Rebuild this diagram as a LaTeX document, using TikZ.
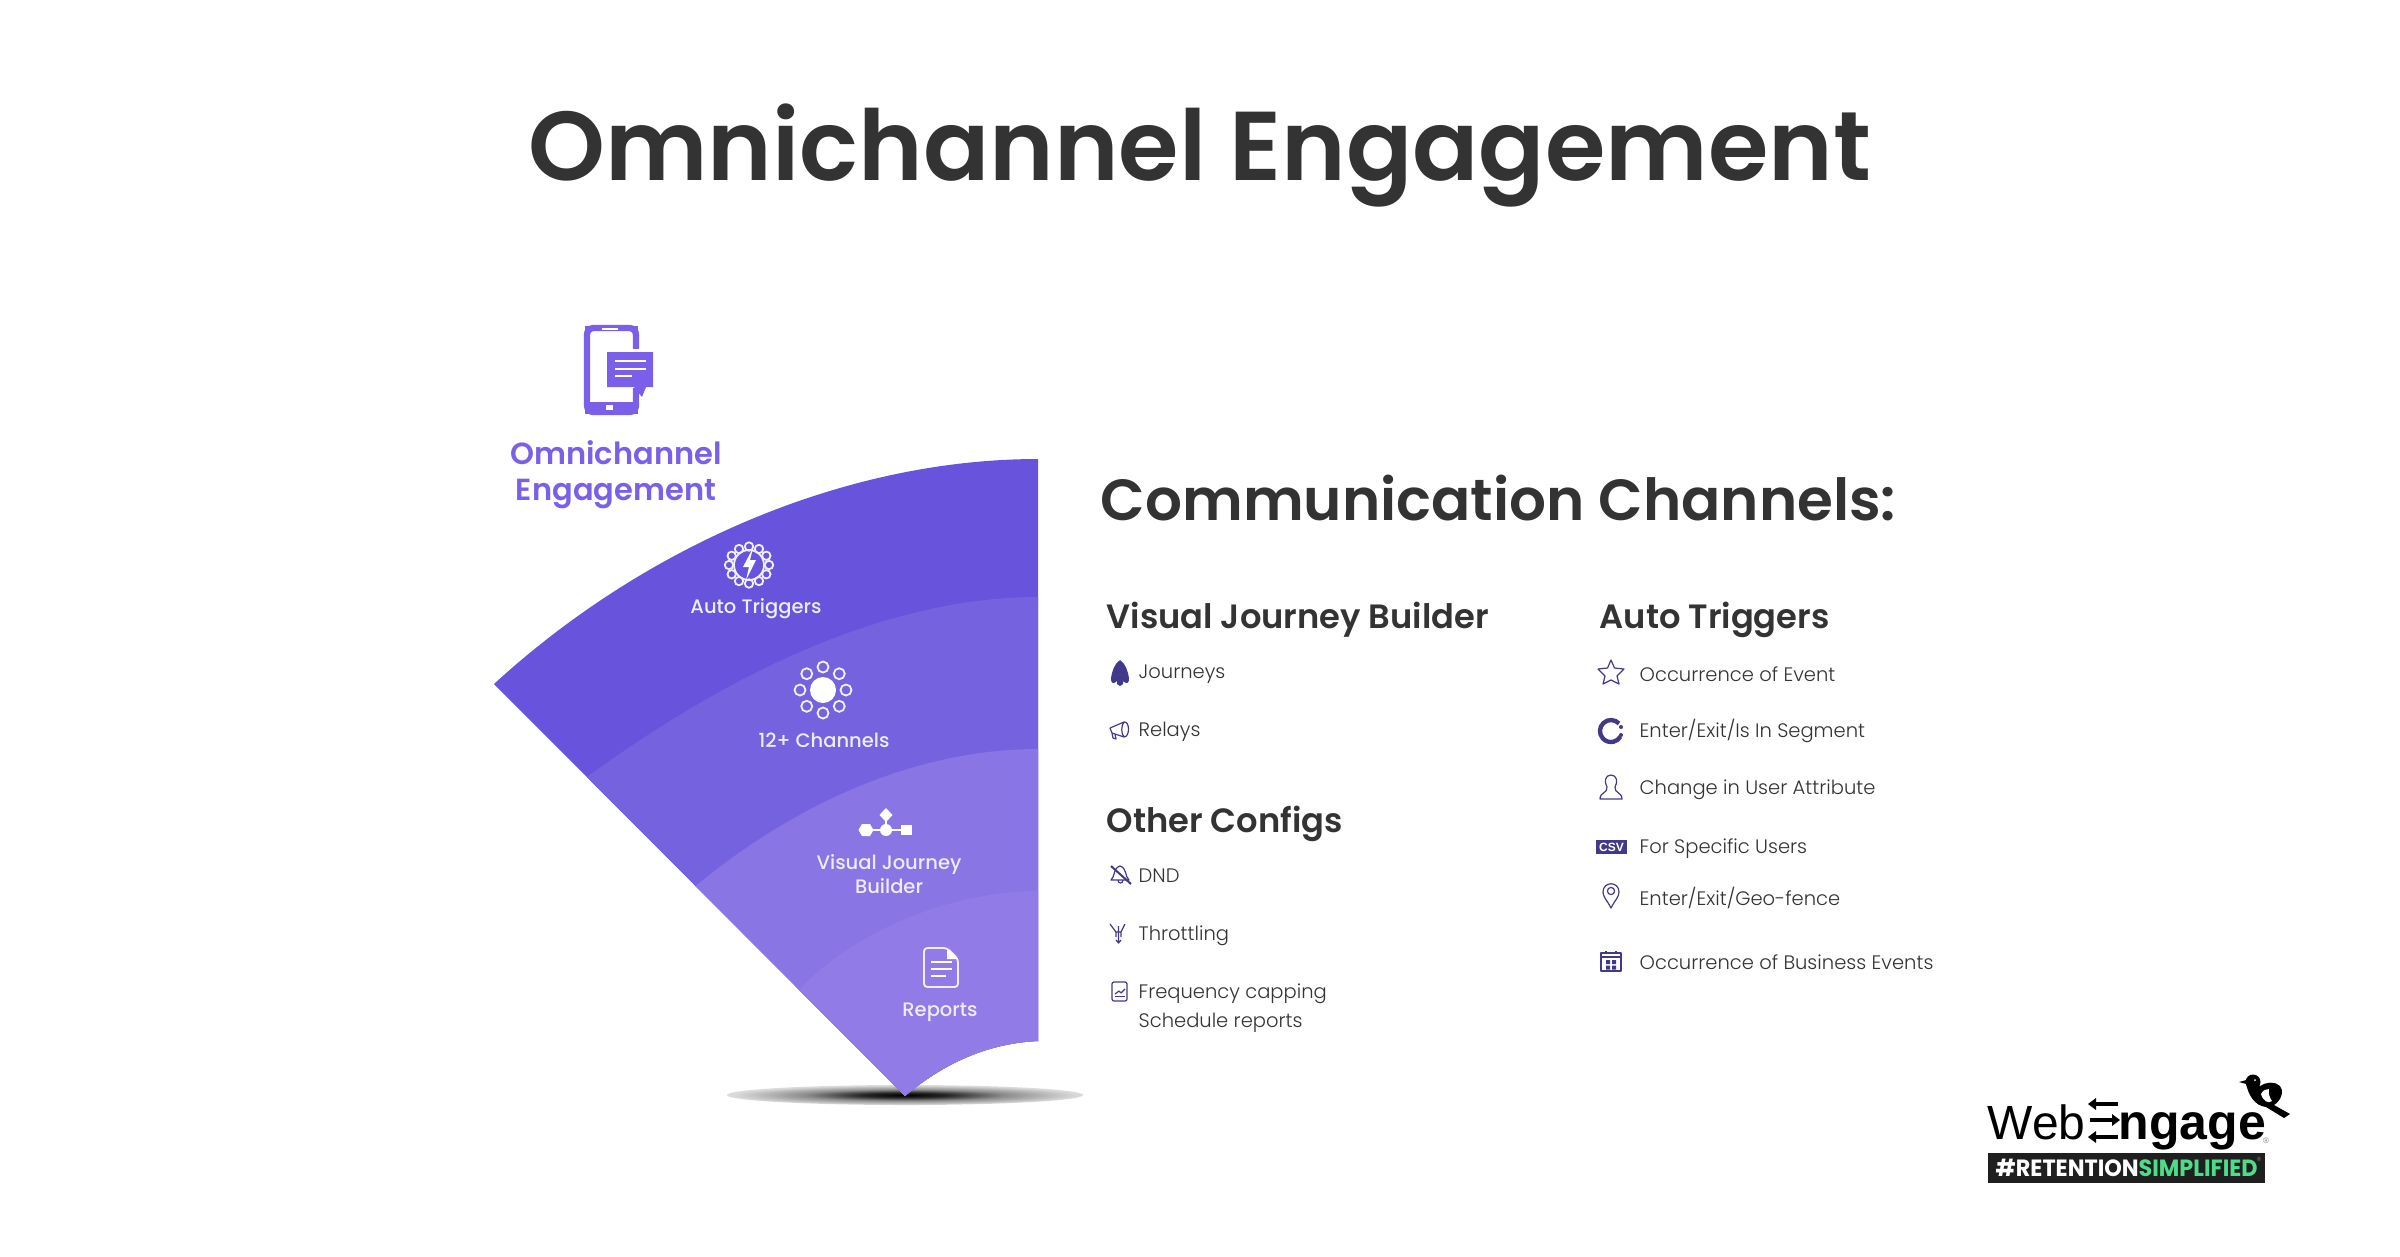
\documentclass[tikz,border=0pt]{standalone}
\usepackage{fontspec}
\usepackage{graphicx}
\setmainfont{Poppins}
\newfontfamily\popsb{Poppins SemiBold}
\newfontfamily\popmd{Poppins Medium}
\newfontfamily\poplt{Poppins Light}
\newfontfamily\logofont{Liberation Sans}
\newcommand{\pxs}[1]{\fontsize{\dimexpr#1pt*3/10\relax}{\dimexpr#1pt*36/100\relax}\selectfont}
\definecolor{ink}{HTML}{333333}
\definecolor{band1}{HTML}{6753DC}
\definecolor{band2}{HTML}{7562DE}
\definecolor{band3}{HTML}{8A75E4}
\definecolor{band4}{HTML}{917BE6}
\definecolor{brandv}{HTML}{7A60E8}
\definecolor{iconv}{HTML}{43398A}
\definecolor{greenl}{HTML}{4FDC8A}
\pgfdeclareradialshading{shadowfade}{\pgfpointorigin}{color(0bp)=(black); color(6bp)=(black!85); color(14bp)=(black!45); color(24bp)=(black!15); color(36bp)=(black!4); color(50bp)=(white); color(100bp)=(white)}
\tikzset{
 titletext/.style={anchor=base west,inner sep=0pt,text=ink,font=\popsb\pxs{97.8}},
 subtitle/.style={anchor=base west,inner sep=0pt,text=ink,font=\popsb\pxs{58}},
 heading/.style={anchor=base west,inner sep=0pt,text=ink,font=\popsb\pxs{33.7}},
 item/.style={anchor=base west,inner sep=0pt,text=ink,font=\poplt\pxs{19.5}},
 fanlabel/.style={anchor=center,inner sep=0pt,text=white!88!band2,font=\popmd\pxs{19.5}},
 brandlabel/.style={anchor=center,inner sep=0pt,text=brandv,font=\popsb\pxs{30.5}},
 iconline/.style={draw=iconv,line width=.36pt,line join=round},
 iconfill/.style={fill=iconv,draw=none},
 fanline/.style={draw=white!90!band2,line width=.55pt},
}
\begin{document}
\begin{tikzpicture}[x=.3pt,y=-.3pt]
\useasboundingbox (0,0) rectangle (2400,1256);
\fill[white] (0,0) rectangle (2400,1256);
% title block
\node[titletext] (title) at (528,180) {Omnichannel Engagement};
\node[subtitle] (sub) at (1100,520.5) {Communication Channels:};
% shadow
\shade[shading=shadowfade] (905,1095) ellipse (178 and 10);
% fan
\fill[band1] (494,684) .. controls (640,550) and (840,459) .. (1038,459) -- (1038,1041)
  .. controls (990,1043) and (945,1062) .. (905,1096) -- cycle;
\fill[band2] (587,777) .. controls (720,680) and (880,597) .. (1038,597) -- (1038,1041)
  .. controls (990,1043) and (945,1062) .. (905,1096) -- cycle;
\fill[band3] (695.5,886) .. controls (800,800) and (920,749) .. (1038,749) -- (1038,1041)
  .. controls (990,1043) and (945,1062) .. (905,1096) -- cycle;
\fill[band4] (799,990) .. controls (860,925) and (960,891) .. (1038,891) -- (1038,1041)
  .. controls (990,1043) and (945,1062) .. (905,1096) -- cycle;
% fan labels
\node[fanlabel] (l1) at (756,609) {Auto Triggers};
\node[fanlabel] (l2) at (824,740) {12+ Channels};
\node[fanlabel] (l3) at (889,864) {Visual Journey};
\node[fanlabel] (l3b) at (889,886) {Builder};
\node[fanlabel] (l4) at (940,1012) {Reports};
\node[brandlabel] (b1) at (616,453) {Omnichannel};
\node[brandlabel] (b2) at (616,494) {Engagement};
% phone icon
\draw[brandv,line width=1.9pt,rounded corners=2pt] (587,328) rectangle (636,412);
\fill[brandv] (585,326) rectangle (638,331);
\fill[brandv] (585,402) rectangle (638,414);
\fill[white] (606,405) rectangle (613,410);
\fill[white] (602,327.5) rectangle (618,329.5);
\fill[white] (604,349) rectangle (656,388);
\fill[brandv] (607,352) -- (653,352) -- (653,387) -- (646,387) -- (642,397) -- (634,387) -- (607,387) -- cycle;
\foreach \ya/\xb in {361/646,369/646,376/632}{\draw[white,line width=.7pt] (615,\ya) -- (\xb,\ya);}
% auto triggers gear icon
\draw[fanline] (749,565) circle (15);
\foreach \a in {0,30,...,330}{\draw[fanline] ({749+20*cos(\a)},{565+18.5*sin(\a)}) circle (4.2);}
\fill[white] (753,548) -- (743,567) -- (749,567) -- (746,580) -- (756,560) -- (750,560) -- cycle;
% 12+ channels icon
\fill[white] (823,690) circle (13);
\foreach \a in {0,45,...,315}{\draw[fanline] ({823+23*cos(\a)},{690+23*sin(\a)}) circle (5.5);}
% flow icon
\draw[white,line width=.8pt] (862,830) -- (905,830) (886,817) -- (886,830);
\fill[white] (886,808) -- (892.5,815) -- (886,822) -- (879.5,815) -- cycle;
\fill[white] (862,824) -- (870,824) -- (873.5,830) -- (870,836) -- (862,836) -- (858.5,830) -- cycle;
\fill[white] (886,830) circle (6);
\fill[white] (901,825) rectangle (912,835);
% doc icon
\draw[fanline,line join=round,rounded corners=1pt] (924,948) -- (947,948) -- (958,959) -- (958,987) -- (924,987) -- cycle;
\foreach \ya/\xb in {962/952,969/952,976/946}{\draw[white,line width=.55pt] (931,\ya) -- (\xb,\ya);}
\fill[white] (947,948) -- (958,959) -- (947,959) -- cycle;
% left column
\node[heading] (h1) at (1106,628) {Visual Journey Builder};
\node[item] (i1) at (1138,678) {Journeys};
\node[item] (i2) at (1138,736) {Relays};
\node[heading] (h2) at (1106,832) {Other Configs};
\node[item] (i3) at (1138,882) {DND};
\node[item] (i4) at (1138,940) {Throttling};
\node[item] (i5) at (1138,998) {Frequency capping};
\node[item] (i6) at (1138,1027) {Schedule reports};
% right column
\node[heading] (h3) at (1599,628) {Auto Triggers};
\node[item] (j1) at (1639,681) {Occurrence of Event};
\node[item] (j2) at (1639,737) {Enter/Exit/Is In Segment};
\node[item] (j3) at (1639,794) {Change in User Attribute};
\node[item] (j4) at (1639,853) {For Specific Users};
\node[item] (j5) at (1639,905) {Enter/Exit/Geo-fence};
\node[item] (j6) at (1639,969) {Occurrence of Business Events};
% rocket
\fill[iconv] (1120,660) .. controls (1114,664) and (1112,672) .. (1111,678) .. controls (1111,682) and (1112,684) .. (1115,682.5)
  -- (1117,681) -- (1117,684) -- (1120,686) -- (1123,684) -- (1123,681) -- (1125,682.5) .. controls (1128,684) and (1129,682) .. (1129,678)
  .. controls (1128,672) and (1126,664) .. (1120,660) -- cycle;
% megaphone
\draw[iconline] (1110,728) -- (1124,722) .. controls (1130,721) and (1130,737) .. (1124,737) -- (1112,733) -- (1110,728) (1124,722) .. controls (1121,725) and (1121,734) .. (1124,737)
 (1112,733) -- (1113,738) -- (1116,739) -- (1115,734);
% DND bell
\draw[iconline] (1111,880) .. controls (1115,877) and (1113,868) .. (1120,866) .. controls (1127,868) and (1125,877) .. (1129,880) -- cycle (1118,880) .. controls (1118,884) and (1123,884) .. (1123,880);
\draw[iconv,line width=.6pt] (1111,866) -- (1131,884);
% throttle
\draw[iconline] (1110,924) -- (1116,932) -- (1116,937) (1125,924) -- (1121,932) -- (1121,937) (1116,932) -- (1121,932) (1118.5,926) -- (1118.5,942) (1116,940) -- (1118.5,943) -- (1121,940);
% report
\draw[iconline,rounded corners=.6pt] (1112,982) rectangle (1127,1001);
\draw[iconline] (1115,994) -- (1119,991) -- (1121,993) -- (1125,989);
\draw[iconline] (1115,996.5) -- (1125,996.5);
% star
\draw[iconline] (1611,660) -- (1614.5,668) -- (1624,669) -- (1617,676) -- (1619,684) -- (1611,680) -- (1603,684) -- (1605,676) -- (1598,669) -- (1607.5,668) -- cycle;
% ring
\draw[iconv,line width=1.3pt] (1619,723.5) arc (-43:-330:11);
\fill[iconv] (1621,727) circle (2) (1621,735) circle (2);
% user
\draw[iconline] (1600,799) -- (1622,799) .. controls (1622,792) and (1614,793) .. (1615,787) .. controls (1618,782) and (1617,775) .. (1611,775) .. controls (1605,775) and (1604,782) .. (1607,787) .. controls (1608,793) and (1600,792) .. (1600,799) -- cycle;
% csv
\fill[iconv] (1596,840) rectangle (1627,854);
\node[anchor=center,inner sep=0pt,text=white,font=\logofont\bfseries\pxs{12}] (csv) at (1611.5,847) {CSV};
% pin
\draw[iconline] (1611,908) .. controls (1607,900) and (1603,897) .. (1603,892) .. controls (1603,881) and (1619,881) .. (1619,892) .. controls (1619,897) and (1615,900) .. (1611,908) -- cycle;
\draw[iconline] (1611,891) circle (3.6);
% calendar
\draw[iconline] (1601,953) rectangle (1621,971);
\draw[iconline] (1601,957) -- (1621,957) (1606,951) -- (1606,954) (1616,951) -- (1616,954);
\fill[iconv] (1606,960) rectangle (1610,964) (1612,960) rectangle (1616,964) (1606,965.5) rectangle (1610,969.5) (1612,965.5) rectangle (1616,969.5);
% logo
\node[anchor=base west,inner sep=0pt,font=\logofont\pxs{48},text=black] (lweb) at (1987,1139) {Web};
\node[anchor=base west,inner sep=0pt,font=\logofont\bfseries\pxs{50},text=black] (lng) at (2118,1139) {ngage};
\foreach \ya/\xa/\xb/\sgn in {1104/2118/2094/-1,1120/2090/2114/1,1137/2118/2094/-1}{
  \fill[black] (\xa,\ya-1.8) -- (\xb,\ya-1.8) -- (\xb,\ya+1.8) -- (\xa,\ya+1.8) -- cycle;
  \fill[black] (\xb+\sgn*6,\ya) -- (\xb-\sgn*2,\ya-6) -- (\xb-\sgn*2,\ya+6) -- cycle;
}
\fill[black] (2253,1082) circle (7.5);
\fill[black] (2239,1082) -- (2250,1079) -- (2250,1085) -- cycle;
\fill[black] (2246,1083) .. controls (2248,1095) and (2255,1106) .. (2266,1107) -- (2284,1118) -- (2290,1114) -- (2274,1105)
  .. controls (2282,1100) and (2284,1090) .. (2280,1086) .. controls (2275,1081) and (2266,1082) .. (2260,1086) -- cycle;
\fill[white] (2261,1094) .. controls (2263,1090) and (2266,1089) .. (2269,1089) .. controls (2268,1094) and (2270,1098) .. (2272,1101) .. controls (2268,1104) and (2263,1101) .. (2261,1094) -- cycle;
\fill[white] (2255,1080) circle (1);
\node[anchor=center,inner sep=0pt,font=\logofont\pxs{8},text=gray] (reg) at (2266,1141) {®};
\fill[black!88] (1988,1153) rectangle (2265,1183);
\node[anchor=base west,inner sep=0pt,font=\bfseries\pxs{23.5},text=white] (tag1) at (1995,1176) {\resizebox{42.9pt}{\height}{\#RETENTION}};
\node[anchor=base west,inner sep=0pt,font=\bfseries\pxs{23.5},text=greenl] (tag2) at (2138,1176) {\resizebox{35.7pt}{\height}{SIMPLIFIED}};
\node[anchor=center,inner sep=0pt,font=\logofont\pxs{6},text=gray] (reg2) at (2259,1159) {®};
\end{tikzpicture}
\end{document}
